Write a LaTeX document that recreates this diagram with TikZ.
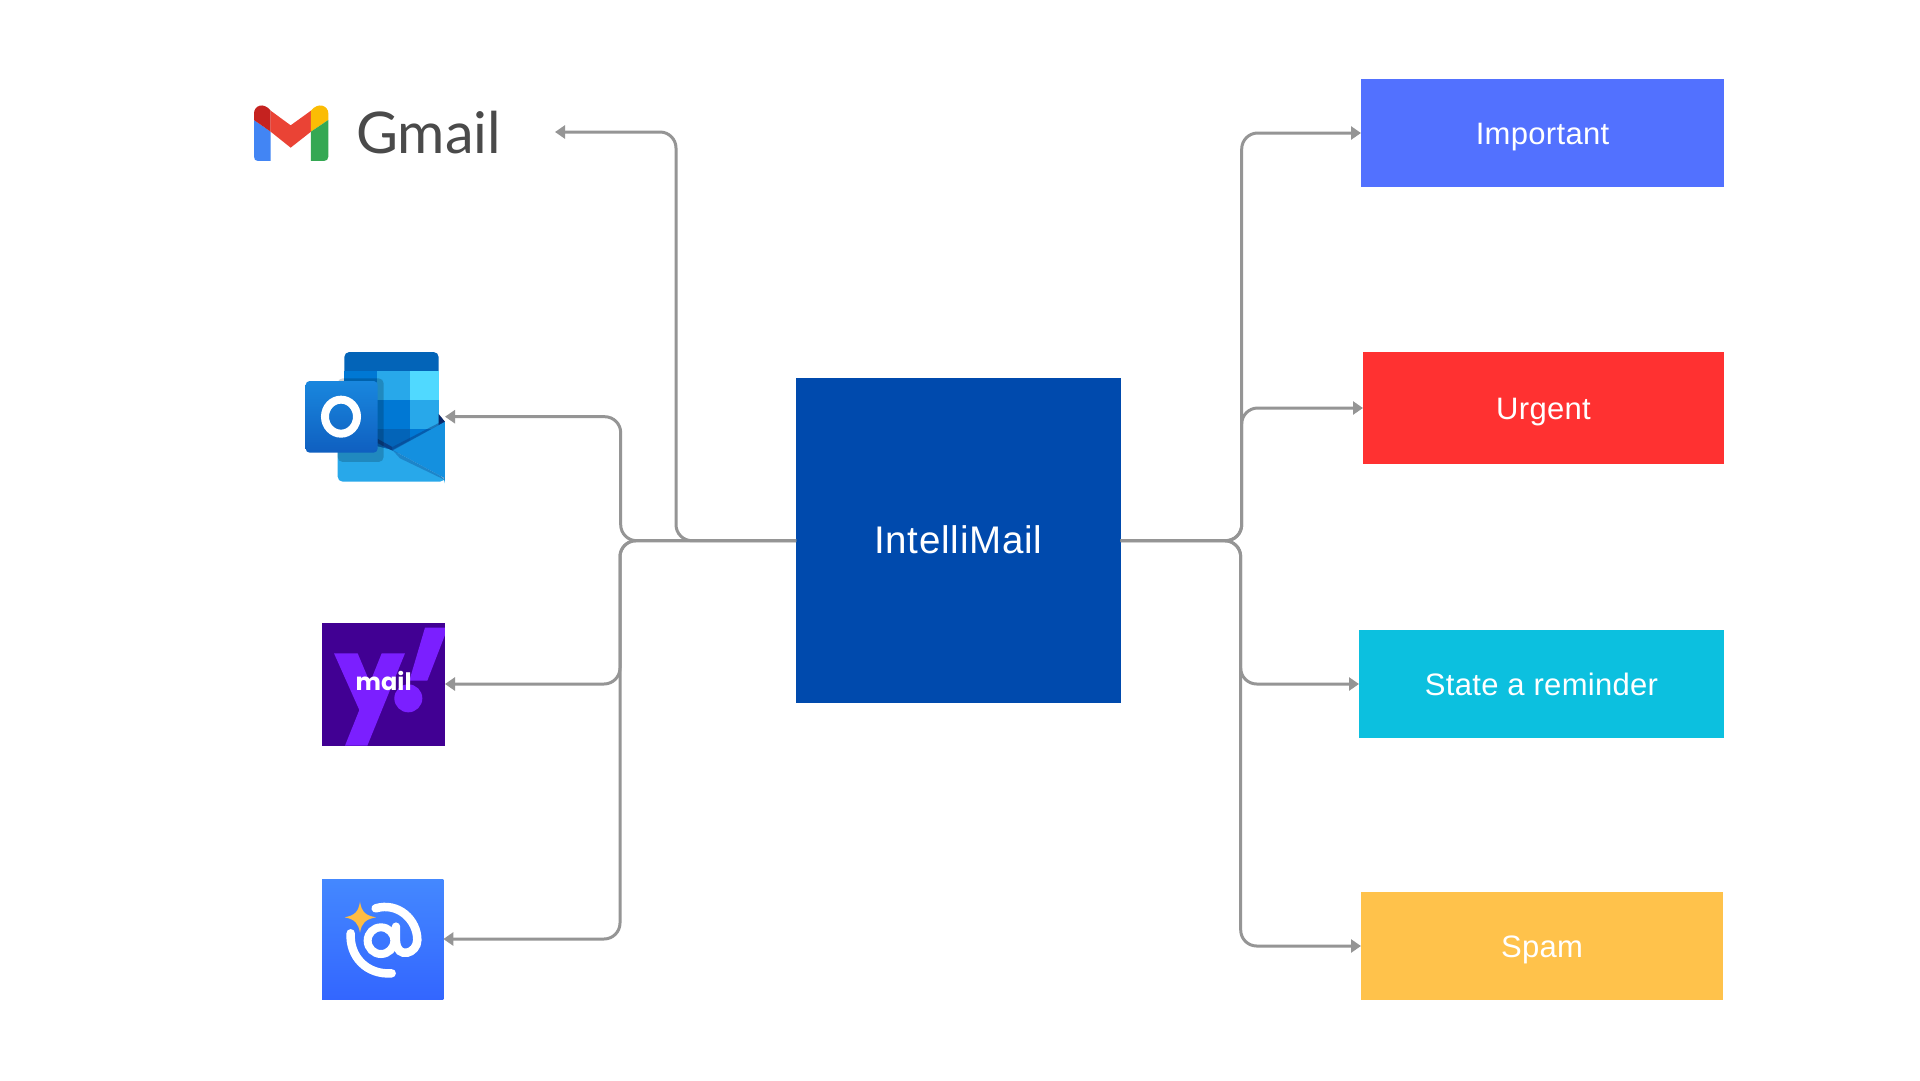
\documentclass[tikz,border=0pt]{standalone}
\usepackage{fontspec}
\setmainfont{Liberation Sans}
\newfontfamily\labfont[LetterSpace=1.0]{Liberation Sans}
\newfontfamily\titlefont[LetterSpace=2.0]{Liberation Sans}
\newfontfamily\gfont{Lato}
\newfontfamily\yfont{Poppins}
\usetikzlibrary{arrows.meta,calc}
\definecolor{connc}{HTML}{959595}
\definecolor{mainc}{HTML}{004AAD}
\definecolor{impc}{HTML}{5271FF}
\definecolor{urgc}{HTML}{FF3131}
\definecolor{remc}{HTML}{0CC0DF}
\definecolor{spamc}{HTML}{FFC24B}
\tikzset{
  boxlabel/.style={inner sep=0pt,outer sep=0pt,text=white,text height=22.2pt,text depth=0pt,font=\labfont\fontsize{31}{37}\selectfont},
  connector/.style={draw=connc,line width=3pt,rounded corners=16pt,-{Triangle[length=10pt,width=13pt]}},
  logoanchor/.style={inner sep=0pt,outer sep=0pt,draw=none},
  zoomscope/.style={x=0.3333pt,y=-0.3333pt},
}
\begin{document}
\begin{tikzpicture}[x=1pt,y=-1pt]
\useasboundingbox (0,0) rectangle (1920,1080);
\fill[white] (0,0) rectangle (1920,1080);

% boxes
\node[boxlabel,fill=mainc,minimum width=324.7pt,minimum height=324.7pt,text height=26.8pt,text depth=1pt,font=\titlefont\fontsize{38.5}{46}\selectfont] (main) at (958.35,540.7) {IntelliMail};
\node[boxlabel,fill=impc,minimum width=363pt,minimum height=108pt] (important) at (1542.5,133) {Important};
\node[boxlabel,fill=urgc,minimum width=361pt,minimum height=112.5pt] (urgent) at (1543.5,408) {Urgent};
\node[boxlabel,fill=remc,minimum width=365pt,minimum height=108pt] (reminder) at (1541.5,684) {State a reminder};
\node[boxlabel,fill=spamc,minimum width=362pt,minimum height=108.5pt] (spam) at (1542,946) {Spam};

% logo anchors
\node[logoanchor,minimum width=301pt,minimum height=56pt] (gmail) at (404.5,132) {};
\node[logoanchor,minimum width=140pt,minimum height=130pt] (outlook) at (375,416.7) {};
\node[logoanchor,minimum width=123pt,minimum height=123pt] (yahoo) at (383.5,684) {};
\node[logoanchor,minimum width=121.3pt,minimum height=121.7pt] (clawson) at (382.7,939) {};

% Gmail logo
\begin{scope}[shift={(230,80)},zoomscope]
  \fill[fill=white] (72,75) rectangle (295,243);
  \fill[color={rgb,255:red,66;green,133;blue,244}] (72,120) -- (122,155) -- (122,243) -- (84,243) .. controls (76,243) and (72,238) .. (72,230) -- cycle;
  \fill[color={rgb,255:red,197;green,34;blue,31}] (72,120) -- (72,100) .. controls (72,78) and (100,64) .. (122,92) -- (122,155) -- cycle;
  \fill[color={rgb,255:red,234;green,67;blue,53}] (122,92) -- (182,136) -- (243,92) -- (243,155) -- (182,203) -- (122,155) -- cycle;
  \fill[color={rgb,255:red,251;green,188;blue,4}] (243,92) .. controls (265,64) and (295,78) .. (295,100) -- (295,120) -- (243,155) -- cycle;
  \fill[color={rgb,255:red,52;green,168;blue,83}] (243,155) -- (295,120) -- (295,230) .. controls (295,238) and (290,243) .. (282,243) -- (243,243) -- cycle;
\end{scope}
\node[inner sep=0pt,anchor=base west,text={rgb,255:red,74;green,74;blue,74}] (gmailtext) at (356,153.5) {\gfont\fontsize{57.5}{68}\selectfont Gmail};

% Outlook logo
\begin{scope}[shift={(290,340)},zoomscope]
  \fill[color={rgb,255:red,3;green,100;blue,184},rounded corners=5pt] (163,36) rectangle (446,120);
  \fill[color={rgb,255:red,0;green,120;blue,212}] (163,93) rectangle (261,180);
  \fill[color={rgb,255:red,40;green,168;blue,234}] (261,93) rectangle (359,180);
  \fill[color={rgb,255:red,80;green,217;blue,255}] (359,93) rectangle (446,180);
  \fill[color={rgb,255:red,0;green,120;blue,212}] (163,180) rectangle (359,267);
  \fill[color={rgb,255:red,40;green,168;blue,234}] (359,180) rectangle (446,267);
  \fill[color={rgb,255:red,3;green,100;blue,184}] (163,267) rectangle (359,340);
  \fill[color={rgb,255:red,0;green,120;blue,212}] (359,267) rectangle (446,320);
  \fill[color={rgb,255:red,10;green,39;blue,103}] (446,222) -- (465,245) -- (446,262) -- cycle;
  \fill[color={rgb,255:red,40;green,168;blue,234},rounded corners=5pt] (143,290) -- (307,330) -- (465,415) -- (465,425) -- (143,425) -- cycle;
  \fill[color={rgb,255:red,20;green,144;blue,223}] (307,330) -- (465,245) -- (465,415) -- cycle;
  \fill[color={rgb,255:red,10;green,58;blue,128},opacity=.85] (262,296) -- (307,321) -- (307,332) -- (262,309) -- cycle;
  \fill[color={rgb,255:red,10;green,58;blue,128},opacity=.45] (307,321) -- (446,249) -- (465,245) -- (307,332) -- cycle;
  \fill[color={rgb,255:red,20;green,100;blue,170},opacity=.5] (307,330) -- (465,415) -- (465,420) -- (330,355) -- cycle;
  \fill[color=black,opacity=.18,rounded corners=5pt] (143,115) rectangle (281,366);
  \shade[top color={rgb,255:red,25;green,135;blue,222},bottom color={rgb,255:red,15;green,95;blue,192},rounded corners=4pt] (47,123) rectangle (263,338);
  \draw[white,line width=8pt] (153,230) ellipse [x radius=48,y radius=51];
\end{scope}

% Yahoo Mail logo
\begin{scope}[shift={(310,610)},zoomscope]
  \fill[color={rgb,255:red,65;green,0;blue,147}] (36,38) rectangle (405,407);
  \fill[color={rgb,255:red,123;green,31;blue,255}] (72,130) -- (143,130) -- (180,218) -- (215,130) -- (285,130) -- (172,407) -- (105,407) -- (148,300) -- cycle;
  \fill[color={rgb,255:red,123;green,31;blue,255}] (345,53) -- (405,53) -- (405,75) -- (352,212) -- (298,212) -- cycle;
  \fill[color={rgb,255:red,123;green,31;blue,255}] (295,265) circle [radius=42];
  \node[inner sep=0pt,text=white] (yahootext) at (221,213) {\yfont\bfseries\fontsize{24}{28}\selectfont mail};
\end{scope}

% Clawson at-mail logo
\begin{scope}[shift={(310,870)},zoomscope]
  \shade[top color={rgb,255:red,68;green,136;blue,255},bottom color={rgb,255:red,51;green,102;blue,255}] (36,27) rectangle (400,388);
  \fill[color={rgb,255:red,255;green,188;blue,66}] (104,142) .. controls (135,136) and (145,125) .. (150,95) .. controls (155,125) and (165,136) .. (198,142) .. controls (165,148) and (155,160) .. (150,188) .. controls (145,160) and (135,148) .. cycle;
  \draw[white,line width=8.5pt,line cap=round] (122,190) .. controls (118,260) and (170,315) .. (245,310);
  \draw[white,line width=8.5pt,line cap=round] (197,115) .. controls (265,95) and (322,150) .. (322,210) .. controls (322,250) and (262,270) .. (258,215) -- (258,170);
  \draw[white,line width=8pt] (213,212) circle [radius=40];
\end{scope}

% column coordinates
\coordinate (colA) at (620.7,541);
\coordinate (colB) at (620,541);
\coordinate (colG) at (676,541);
\coordinate (colR) at (1241.7,541);
\coordinate (colS) at (1240.7,541);

% connectors
\draw[connector] (main.west) -- (main.west -| colG) -- (colG |- gmail.east) -- (gmail.east);
\draw[connector] (main.west) -- (main.west -| colA) -- (colA |- outlook.east) -- (outlook.east);
\draw[connector] (main.west) -- (main.west -| colB) -- (colB |- yahoo.east) -- (yahoo.east);
\draw[connector] (main.west) -- (main.west -| colB) -- (colB |- clawson.east) -- (clawson.east);
\draw[connector] (main.east) -- (main.east -| colR) -- (colR |- important.west) -- (important.west);
\draw[connector] (main.east) -- (main.east -| colR) -- (colR |- urgent.west) -- (urgent.west);
\draw[connector] (main.east) -- (main.east -| colS) -- (colS |- reminder.west) -- (reminder.west);
\draw[connector] (main.east) -- (main.east -| colS) -- (colS |- spam.west) -- (spam.west);
\end{tikzpicture}
\end{document}
